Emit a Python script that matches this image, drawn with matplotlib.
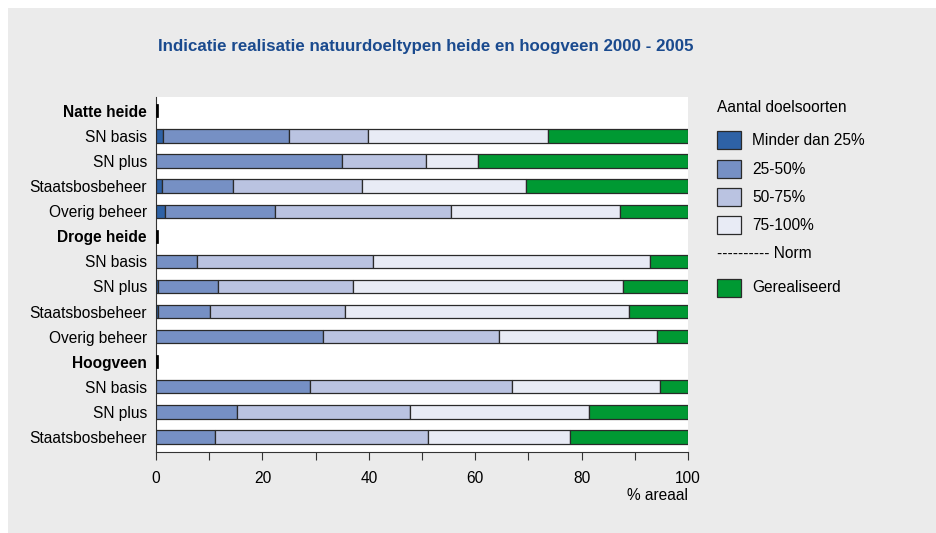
import matplotlib
matplotlib.use("Agg")
import matplotlib.pyplot as plt
from matplotlib.patches import Rectangle

plt.rcParams['font.family'] = ['Liberation Sans', 'DejaVu Sans']

# rows from top to bottom; headers have no data
labels = ["Natte heide", "SN basis", "SN plus", "Staatsbosbeheer", "Overig beheer",
          "Droge heide", "SN basis", "SN plus", "Staatsbosbeheer", "Overig beheer",
          "Hoogveen", "SN basis", "SN plus", "Staatsbosbeheer"]
headers = [0, 5, 10]

# share of area (%) per class of target species
minder_25 = [0, 1.4, 0.0, 1.2, 1.6, 0, 0.0, 0.3, 0.3, 0.0, 0, 0.0, 0.0, 0.0]
p25_50    = [0, 23.6, 34.9, 13.2, 20.7, 0, 7.7, 11.4, 9.8, 31.4, 0, 28.9, 15.3, 11.1]
p50_75    = [0, 14.9, 15.9, 24.4, 33.2, 0, 33.0, 25.4, 25.4, 33.0, 0, 38.0, 32.5, 40.1]
p75_100   = [0, 33.8, 9.7, 30.8, 31.7, 0, 52.2, 50.6, 53.4, 29.7, 0, 27.8, 33.6, 26.7]
gerealiseerd = [0, 26.3, 39.5, 30.4, 12.8, 0, 7.1, 12.3, 11.1, 5.9, 0, 5.3, 18.6, 22.1]

series = [minder_25, p25_50, p50_75, p75_100, gerealiseerd]
names = ["Minder dan 25%", "25-50%", "50-75%", "75-100%", "Gerealiseerd"]
colors = ["#2E62A6", "#7690C4", "#BAC3E1", "#E8EBF5", "#009933"]
edge = "#2a2a2a"

fig = plt.figure(figsize=(9.36, 5.33), dpi=100)
fig.patch.set_facecolor("white")
fig.patches.append(Rectangle((8 / 936, 0), 1, 1 - 8 / 533, transform=fig.transFigure,
                             facecolor="#EBEBEB", edgecolor="none", zorder=-10))

W, H = 936, 533
ax = fig.add_axes([156 / W, 1 - 452 / H, (688 - 156) / W, (452 - 97) / H])
ax.set_facecolor("white")

y = list(range(len(labels)))
left = [0] * len(labels)
for vals, col in zip(series, colors):
    ax.barh(y, vals, left=left, height=0.53, color=col, edgecolor=edge, linewidth=0.9, zorder=3)
    left = [l + v for l, v in zip(left, vals)]

# small black marker at the header rows
ax.barh(headers, [0.35] * len(headers), height=0.53, color="black", edgecolor="black",
        linewidth=0.5, zorder=3)

ax.set_xlim(0, 100)
ax.set_ylim(13.6, -0.55)
ax.set_yticks(y)
ax.set_yticklabels(labels, fontsize=11.2)
for i in headers:
    ax.get_yticklabels()[i].set_fontweight("bold")
ax.tick_params(axis="y", length=0, pad=6.5)

ax.set_xticks([0, 20, 40, 60, 80, 100])
ax.set_xticks([10, 30, 50, 70, 90], minor=True)
ax.tick_params(axis="x", which="both", direction="out", length=5.5, width=0.8,
               color="#333333", labelsize=11.2, pad=8.5)

for s in ["top", "right"]:
    ax.spines[s].set_visible(False)
ax.spines["left"].set_color("#333333")
ax.spines["bottom"].set_color("#333333")

fig.text(688 / W, 1 - 496 / H, "% areaal", ha="right", va="center", fontsize=11.2)

fig.text(426 / W, 1 - 46 / H, "Indicatie realisatie natuurdoeltypen heide en hoogveen 2000 - 2005",
         ha="center", va="center", fontsize=12.2, fontweight="bold", color="#1A4A8E")

# legend drawn by hand
lx = 717
fig.text(lx / W, 1 - 108 / H, "Aantal doelsoorten", ha="left", va="center", fontsize=11.2)
leg_items = list(zip(names[:4], colors[:4])) + [("Norm", None), (names[4], colors[4])]
leg_y = [140, 169, 197, 225, 254, 288]
for (name, col), yy in zip(leg_items, leg_y):
    if col is None:
        fig.text(lx / W, 1 - yy / H, "---------- " + name, ha="left", va="center", fontsize=11.2)
        continue
    fig.patches.append(Rectangle((lx / W, 1 - (yy + 9) / H), 24 / W, 18 / H,
                                 transform=fig.transFigure, facecolor=col,
                                 edgecolor=edge, linewidth=0.9))
    fig.text((lx + 35) / W, 1 - yy / H, name, ha="left", va="center", fontsize=11.2)

fig.savefig("out.png", dpi=100)
